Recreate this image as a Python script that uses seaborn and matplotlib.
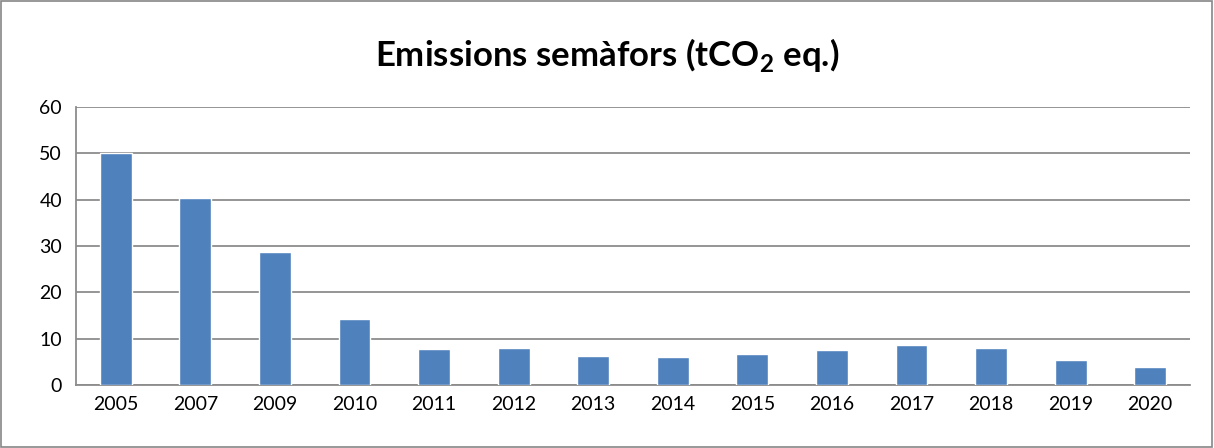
import matplotlib
matplotlib.use("Agg")
import matplotlib.pyplot as plt
import seaborn as sns
import pandas as pd
from matplotlib.patches import Rectangle

# dades llegides del gràfic
years = ["2005", "2007", "2009", "2010", "2011", "2012", "2013",
         "2014", "2015", "2016", "2017", "2018", "2019", "2020"]
emissions = [50.0, 40.4, 28.6, 14.2, 7.8, 7.9, 6.3,
             6.0, 6.6, 7.5, 8.6, 7.9, 5.4, 3.95]

df = pd.DataFrame({"year": years, "tco2": emissions})

sns.set_style("white")
plt.rcParams["font.family"] = ["Lato", "DejaVu Sans"]
plt.rcParams["mathtext.fontset"] = "custom"
plt.rcParams["mathtext.rm"] = "Lato"
plt.rcParams["mathtext.bf"] = "Lato:bold"
plt.rcParams["text.color"] = "black"
plt.rcParams["xtick.labelcolor"] = "black"
plt.rcParams["ytick.labelcolor"] = "black"

fig = plt.figure(figsize=(12.14, 4.48), dpi=100)
ax = fig.add_axes([76 / 1214, 1 - 385 / 448, (1190 - 76) / 1214, (385 - 107) / 448])

sns.barplot(data=df, x="year", y="tco2", color="#4f81bd", width=0.4,
            saturation=1, ax=ax, zorder=3)

grid_col = "#8c8c8c"
ax.set_ylim(0, 60)
ax.set_yticks(range(0, 61, 10))
ax.yaxis.grid(True, color=grid_col, linewidth=1.3, zorder=0)
ax.set_axisbelow(True)
ax.set_xlabel("")
ax.set_ylabel("")

# ticks de l'eix x entre categories
ax.set_xlim(-0.5, len(years) - 0.5)
ax.set_xticks([i + 0.5 for i in range(-1, len(years))], minor=True)
ax.tick_params(axis="x", which="minor", length=6, width=1.3, color=grid_col, direction="out")
ax.tick_params(axis="x", which="major", length=0, labelsize=14, pad=8, labelcolor="black")
ax.tick_params(axis="y", length=6, width=1.3, color=grid_col, direction="out",
               labelsize=14, pad=4, labelcolor="black")

for side in ["top", "right"]:
    ax.spines[side].set_visible(False)
for side in ["left", "bottom"]:
    ax.spines[side].set_color(grid_col)
    ax.spines[side].set_linewidth(1.3)

fig.text(0.5, 1 - 55 / 448, r"Emissions semàfors (tCO$_\mathbf{2}$ eq.)",
         ha="center", va="center", fontsize=25, fontweight="bold", color="black")

# vora del gràfic
fig.patches.append(Rectangle((0.001, 0.002), 0.997, 0.995, transform=fig.transFigure,
                             fill=False, edgecolor="#868686", linewidth=1.2))

fig.savefig("out.png", dpi=100)
